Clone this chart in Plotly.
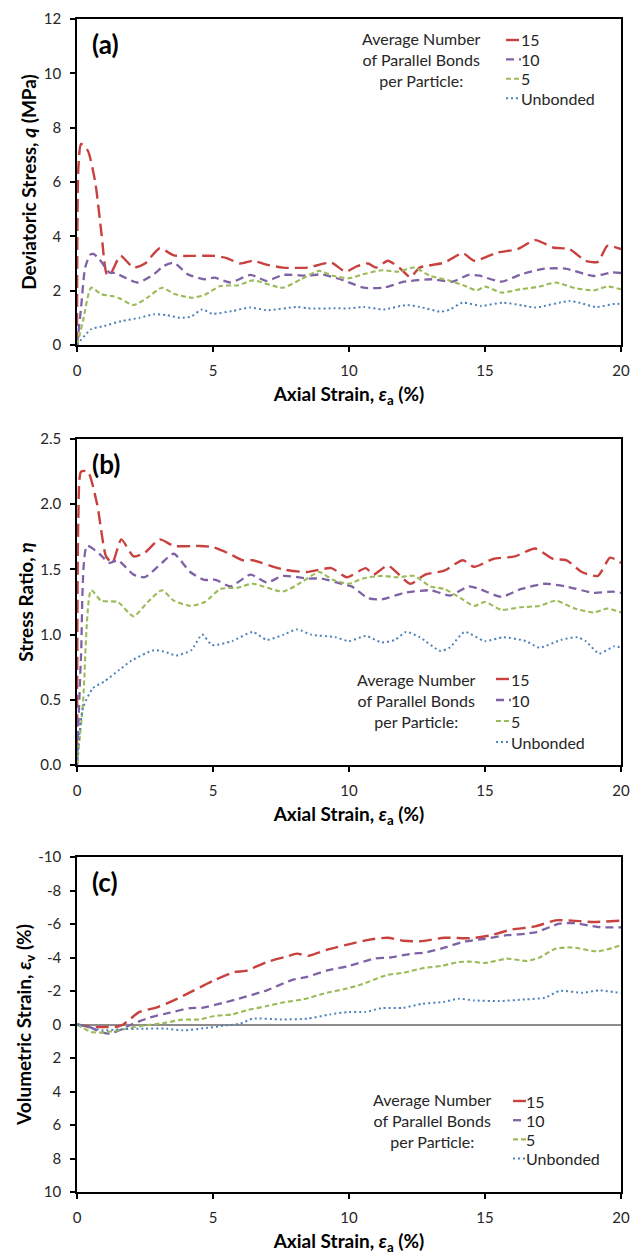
import plotly.graph_objects as go

# ---------------- data ----------------
series_names = ["15", "10", "5", "Unbonded"]
series_colors = ["#C8413F", "#7F62A6", "#9BBB59", "#4F81BD"]
series_dashes = ["13px,6px", "8px,5px", "5px,3px", "2px,3px"]
series_widths = [2.4, 2.3, 2.1, 2.0]

# (a) deviatoric stress q (MPa) vs axial strain (%)
q15_x = [0, 0.05, 0.15, 0.4, 0.67, 0.9, 1.1, 1.25, 1.6, 2.08, 2.5, 3.04, 3.56, 4.3, 5.05, 5.5, 6.0, 6.46,
         7.0, 7.57, 8.46, 9.35, 9.87, 10.3, 10.7, 11.0, 11.43, 11.9, 12.25, 12.6, 13.5, 14.18, 14.6, 15.44,
         16.2, 16.85, 17.5, 18.1, 18.7, 19.15, 19.5, 20]
q15_y = [0, 6.5, 7.4, 7.15, 6.0, 4.1, 2.6, 2.65, 3.28, 2.85, 3.0, 3.56, 3.3, 3.28, 3.28, 3.2, 3.0, 3.1,
         2.95, 2.85, 2.85, 3.03, 2.7, 2.9, 3.0, 2.85, 3.1, 2.8, 2.5, 2.85, 3.03, 3.38, 3.1, 3.4,
         3.53, 3.86, 3.59, 3.53, 3.1, 3.06, 3.65, 3.53]
q10_x = [0, 0.15, 0.3, 0.48, 0.6, 0.82, 1.19, 1.4, 2.23, 2.82, 3.19, 3.56, 4.08, 4.68, 5.05, 5.64, 6.38,
         6.98, 7.57, 8.5, 9.0, 9.8, 10.54, 11.28, 12.03, 13.07, 13.8, 14.4, 14.8, 15.6, 16.33, 17.2,
         17.96, 19.0, 19.67, 20]
q10_y = [0, 1.38, 2.85, 3.32, 3.35, 3.16, 2.67, 2.65, 2.3, 2.6, 2.91, 3.03, 2.6, 2.42, 2.48, 2.3, 2.58,
         2.36, 2.58, 2.55, 2.6, 2.38, 2.11, 2.11, 2.33, 2.42, 2.33, 2.58, 2.55, 2.33, 2.6, 2.81,
         2.81, 2.54, 2.67, 2.65]
q5_x = [0, 0.22, 0.52, 0.89, 1.3, 1.6, 2.08, 2.6, 3.12, 3.56, 4.23, 4.7, 5.27, 5.94, 6.46, 7.57, 8.24,
        8.9, 9.4, 10.0, 10.5, 11.2, 11.8, 12.4, 12.99, 13.66, 14.2, 14.7, 15.0, 15.6, 16.3, 17.0, 17.6,
        18.3, 19.0, 19.5, 20]
q5_y = [0, 0.88, 2.11, 1.87, 1.8, 1.7, 1.47, 1.75, 2.11, 1.89, 1.74, 1.85, 2.17, 2.2, 2.38, 2.11, 2.42,
        2.73, 2.55, 2.46, 2.6, 2.75, 2.7, 2.85, 2.54, 2.38, 2.2, 2.01, 2.15, 1.93, 2.05, 2.15, 2.3,
        2.1, 2.01, 2.15, 2.05]
q0_x = [0, 0.52, 1.0, 1.63, 2.3, 2.82, 3.3, 3.79, 4.2, 4.6, 4.97, 5.7, 6.38, 6.98, 8.09, 8.5, 9.5, 10.0,
        10.54, 11.28, 12.1, 12.6, 13.36, 13.7, 14.18, 14.85, 15.66, 16.4, 16.85, 18.1, 18.5, 19.08, 19.8, 20]
q0_y = [0, 0.58, 0.7, 0.88, 1.0, 1.13, 1.1, 1.0, 1.05, 1.31, 1.15, 1.25, 1.38, 1.28, 1.4, 1.35, 1.35, 1.35,
        1.4, 1.31, 1.47, 1.4, 1.23, 1.3, 1.56, 1.44, 1.56, 1.45, 1.38, 1.62, 1.55, 1.4, 1.52, 1.5]

# (b) stress ratio eta vs axial strain (%)
e15_x = [0, 0.05, 0.15, 0.4, 0.74, 1.07, 1.3, 1.63, 2.08, 2.5, 3.04, 3.56, 4.5, 5.0, 5.6, 6.09, 6.46,
         7.57, 8.46, 9.35, 9.92, 10.62, 10.9, 11.43, 12.25, 12.8, 13.5, 14.18, 14.6, 15.3, 16.1, 16.85,
         17.5, 18.0, 18.56, 19.15, 19.6, 20]
e15_y = [0, 1.9, 2.25, 2.25, 2.0, 1.6, 1.55, 1.73, 1.6, 1.63, 1.73, 1.68, 1.68, 1.67, 1.62, 1.57, 1.57,
         1.5, 1.48, 1.51, 1.44, 1.51, 1.46, 1.53, 1.39, 1.46, 1.49, 1.57, 1.52, 1.58, 1.6, 1.66,
         1.58, 1.57, 1.48, 1.45, 1.59, 1.55]
e10_x = [0, 0.15, 0.37, 0.82, 1.19, 1.5, 2.08, 2.49, 3.12, 3.56, 4.16, 4.68, 5.1, 5.64, 6.38, 6.98, 7.57,
         8.5, 9.0, 9.7, 10.1, 10.69, 11.2, 12.03, 13.0, 13.73, 14.4, 14.8, 15.6, 16.33, 17.22, 17.96,
         19.0, 19.7, 20]
e10_y = [0, 0.85, 1.68, 1.62, 1.55, 1.57, 1.46, 1.44, 1.55, 1.62, 1.48, 1.42, 1.42, 1.37, 1.46, 1.4, 1.45,
         1.43, 1.43, 1.39, 1.37, 1.28, 1.27, 1.32, 1.34, 1.3, 1.37, 1.35, 1.29, 1.35, 1.39, 1.37,
         1.32, 1.33, 1.32]
e5_x = [0, 0.22, 0.52, 0.89, 1.5, 2.08, 2.6, 3.12, 3.56, 4.16, 4.7, 5.27, 5.9, 6.46, 7.57, 8.24, 8.9,
        9.4, 10.0, 10.5, 11.2, 11.8, 12.4, 12.99, 13.5, 14.1, 14.6, 15.0, 15.6, 16.3, 17.0, 17.6, 18.3,
        19.0, 19.5, 20]
e5_y = [0, 0.47, 1.34, 1.26, 1.25, 1.14, 1.25, 1.34, 1.26, 1.22, 1.25, 1.35, 1.36, 1.39, 1.33, 1.4, 1.48,
        1.42, 1.39, 1.43, 1.45, 1.44, 1.45, 1.37, 1.35, 1.28, 1.22, 1.25, 1.19, 1.21, 1.22, 1.26, 1.2,
        1.17, 1.2, 1.17]
e0_x = [0, 0.22, 0.59, 1.0, 1.56, 2.0, 2.82, 3.2, 3.64, 4.2, 4.6, 4.97, 5.7, 6.46, 6.98, 7.6, 8.09, 8.6,
        9.5, 10.0, 10.62, 11.2, 11.7, 12.1, 12.6, 13.36, 13.7, 14.25, 15.0, 15.66, 16.5, 17.0, 17.8, 18.4,
        18.7, 19.2, 19.75, 20]
e0_y = [0, 0.44, 0.59, 0.64, 0.73, 0.8, 0.88, 0.87, 0.84, 0.88, 1.0, 0.92, 0.95, 1.02, 0.96, 1.0, 1.04, 1.0,
        0.98, 0.95, 0.99, 0.94, 0.96, 1.02, 0.98, 0.875, 0.9, 1.02, 0.95, 0.98, 0.95, 0.9, 0.96, 0.98,
        0.95, 0.855, 0.91, 0.9]

# (c) volumetric strain (%) vs axial strain (%), negative = dilation
v15_x = [0, 0.5, 1.0, 1.5, 1.7, 2.3, 2.97, 3.56, 4.3, 5.05, 5.79, 6.2, 6.98, 7.65, 8.09, 8.5, 9.2, 10.1,
         10.76, 11.43, 12.0, 12.62, 13.5, 14.5, 15.2, 15.96, 16.85, 17.6, 18.2, 19.0, 20]
v15_y = [0, 0.15, 0.15, 0.12, 0, -0.75, -1.04, -1.44, -2.04, -2.64, -3.13, -3.2, -3.73, -4.03, -4.23, -4.1,
         -4.47, -4.83, -5.07, -5.18, -5.0, -4.97, -5.18, -5.15, -5.32, -5.66, -5.86, -6.22, -6.2, -6.12, -6.2]
v10_x = [0, 0.45, 0.89, 1.2, 1.63, 2.0, 2.67, 3.42, 4.16, 4.6, 5.35, 5.94, 6.98, 7.87, 8.46, 9.2, 9.95,
         10.91, 11.5, 12.32, 12.8, 13.6, 14.18, 15.0, 15.74, 16.48, 16.9, 17.74, 18.3, 19.15, 20]
v10_y = [0, 0.15, 0.45, 0.55, 0.3, 0.0, -0.41, -0.71, -0.98, -1.0, -1.28, -1.54, -2.04, -2.64, -2.84, -3.23,
         -3.47, -3.93, -4.0, -4.23, -4.3, -4.63, -4.93, -5.12, -5.32, -5.42, -5.52, -6.02, -6.05, -5.82, -5.8]
v5_x = [0, 0.52, 0.97, 1.5, 2.3, 3.27, 3.86, 4.5, 5.05, 5.7, 6.24, 6.98, 7.65, 8.31, 9.2, 9.8, 10.47,
        11.36, 12.03, 12.77, 13.4, 14.03, 14.5, 15.0, 15.81, 16.55, 17.0, 17.6, 18.2, 19.15, 20]
v5_y = [0, 0.45, 0.48, 0.35, 0.1, -0.11, -0.29, -0.3, -0.51, -0.6, -0.85, -1.1, -1.34, -1.5, -1.9, -2.1,
        -2.4, -2.94, -3.1, -3.38, -3.5, -3.73, -3.75, -3.67, -3.93, -3.79, -4.0, -4.53, -4.6, -4.37, -4.73]
v0_x = [0, 0.97, 1.48, 2.5, 3.3, 3.86, 4.8, 5.5, 6.0, 6.46, 7.5, 8.46, 9.3, 10.0, 10.6, 11.2, 12.0, 12.7,
        13.5, 14.03, 14.6, 15.5, 16.5, 17.2, 17.74, 18.6, 19.2, 20]
v0_y = [0, 0.35, 0.29, 0.25, 0.25, 0.35, 0.2, 0.05, -0.05, -0.35, -0.3, -0.35, -0.6, -0.75, -0.75, -0.98,
        -1.0, -1.24, -1.35, -1.54, -1.44, -1.4, -1.5, -1.6, -2.0, -1.9, -2.04, -1.87]

panel_data = [
    [(q15_x, q15_y), (q10_x, q10_y), (q5_x, q5_y), (q0_x, q0_y)],
    [(e15_x, e15_y), (e10_x, e10_y), (e5_x, e5_y), (e0_x, e0_y)],
    [(v15_x, v15_y), (v10_x, v10_y), (v5_x, v5_y), (v0_x, v0_y)],
]
panel_labels = ["(a)", "(b)", "(c)"]
y_titles = ["Deviatoric Stress, <i>q</i> (MPa)",
            "Stress Ratio, <i>η</i>",
            "Volumetric Strain, <i>ε</i><sub>v</sub> (%)"]
x_title = "Axial Strain, <i>ε</i><sub>a</sub> (%)"
legend_heading = "Average Number<br>of Parallel Bonds<br>per Particle:"

x_tickvals = [0, 5, 10, 15, 20]
y_tickvals = [[0, 2, 4, 6, 8, 10, 12],
              [0, 0.5, 1.0, 1.5, 2.0, 2.5],
              [-10, -8, -6, -4, -2, 0, 2, 4, 6, 8, 10]]
y_ticktext = [["0", "2", "4", "6", "8", "10", "12"],
              ["0.0", "0.5", "1.0", "1.5", "2.0", "2.5"],
              ["-10", "-8", "-6", "-4", "-2", "0", "2", "4", "6", "8", "10"]]
y_ranges = [[0, 12], [0, 2.5], [10, -10]]

# ---------------- layout geometry (pixels) ----------------
W, H = 632, 1256
ML, MR, MT, MB = 77, 11, 19, 64
plot_h = H - MT - MB
panel_px = [(19, 345), (439, 765), (857, 1192)]   # top, bottom of each plot area

# legend block per panel: key left x, key right x, first row y, row step, heading centre x
legend_geom = [(506, 521, 40, 19.4, 421),
               (496, 511, 679, 21.0, 416),
               (513, 526, 1101, 19.2, 432)]


def ydom(top, bottom):
    return [(H - MB - bottom) / plot_h, (H - MB - top) / plot_h]


def px_x(px):
    return (px - ML) / (W - ML - MR)


def px_y(py):
    return (H - MB - py) / plot_h


FONT = "Lato"
TXT = "#262626"

fig = go.Figure()
for p, curves in enumerate(panel_data):
    suffix = "" if p == 0 else str(p + 1)
    for s, (xs, ys) in enumerate(curves):
        fig.add_trace(go.Scatter(
            x=xs, y=ys, mode="lines", name=series_names[s],
            line=dict(color=series_colors[s], dash=series_dashes[s],
                      width=series_widths[s], shape="spline", smoothing=0.6),
            xaxis="x" + suffix, yaxis="y" + suffix, showlegend=False,
        ))

axis_common = dict(
    showline=True, linecolor="black", linewidth=1.5, mirror=True,
    ticks="outside", ticklen=5, tickwidth=1.5, tickcolor="black",
    showgrid=False, zeroline=False,
    tickfont=dict(family=FONT, size=15, color=TXT),
    ticklabelstandoff=6,
)

shapes = []
for p in range(3):
    suffix = "" if p == 0 else str(p + 1)
    top, bottom = panel_px[p]
    xa = dict(axis_common, domain=[0, 1], range=[0, 20],
              tickmode="array", tickvals=x_tickvals,
              anchor="y" + suffix,
              title=dict(text="<b>" + x_title + "</b>", standoff=10,
                         font=dict(family=FONT, size=19, color="black")))
    ya = dict(axis_common, domain=ydom(top, bottom), range=y_ranges[p],
              tickmode="array", tickvals=y_tickvals[p], ticktext=y_ticktext[p],
              anchor="x" + suffix,
              title=dict(text="<b>" + y_titles[p] + "</b>", standoff=2,
                         font=dict(family=FONT, size=19, color="black")))
    if p == 2:
        ya.update(zeroline=True, zerolinecolor="#8c8c8c", zerolinewidth=1.5)
    fig.update_layout({"xaxis" + suffix: xa, "yaxis" + suffix: ya})

    fig.add_annotation(text="<b>" + panel_labels[p] + "</b>", xref="paper", yref="paper",
                       x=px_x(90), y=px_y(top + 25), xanchor="left", yanchor="middle",
                       showarrow=False, font=dict(family=FONT, size=26, color="black"))

    # legend: heading text, then one key line + label per series
    sx0, sx1, row0, step, hx = legend_geom[p]
    fig.add_annotation(text=legend_heading, xref="paper", yref="paper",
                       x=px_x(hx), y=px_y(row0 + step), xanchor="center", yanchor="middle",
                       align="center", showarrow=False,
                       font=dict(family=FONT, size=16, color=TXT))
    for s, name in enumerate(series_names):
        ry = row0 + s * step
        shapes.append(dict(type="line", xref="paper", yref="paper",
                           x0=px_x(sx0), x1=px_x(sx1), y0=px_y(ry), y1=px_y(ry),
                           line=dict(color=series_colors[s], dash=series_dashes[s],
                                     width=series_widths[s])))
        fig.add_annotation(text=name, xref="paper", yref="paper",
                           x=px_x(sx1), y=px_y(ry), xanchor="left", yanchor="middle",
                           xshift=-2, showarrow=False,
                           font=dict(family=FONT, size=16, color=TXT))

fig.update_layout(
    width=W, height=H,
    margin=dict(l=ML, r=MR, t=MT, b=MB, autoexpand=False),
    paper_bgcolor="white", plot_bgcolor="white",
    font=dict(family=FONT, color=TXT),
    shapes=shapes, showlegend=False,
)

fig.write_html("out.html", config={"displayModeBar": False})
